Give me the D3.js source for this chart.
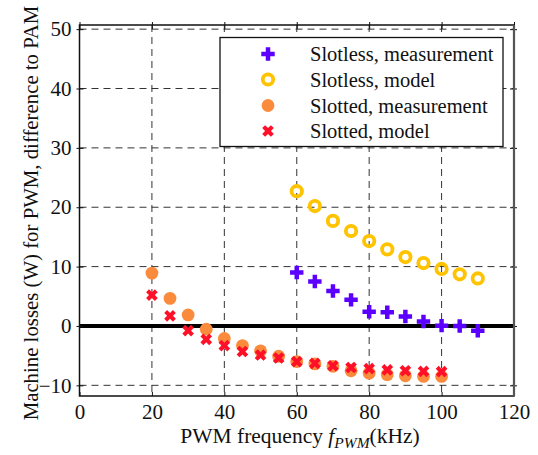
<!DOCTYPE html>
<html>
<head>
<meta charset="utf-8">
<script src="https://cdn.jsdelivr.net/npm/d3@7"></script>
<style>
html,body{margin:0;padding:0;background:#fff;}
svg text{font-family:"Liberation Serif","Times New Roman",serif;fill:#111;}
</style>
</head>
<body>
<svg id="chart" width="538" height="455" style="font-family:'Liberation Serif',serif"></svg>
<script>
const slotlessMeasX = [60,65,70,75,80,85,90,95,100,105,110];
const slotlessMeasY = [9.0,7.5,5.9,4.4,2.4,2.3,1.6,0.75,0.05,0.0,-0.8];

const slotlessModelX = [60,65,70,75,80,85,90,95,100,105,110];
const slotlessModelY = [22.7,20.2,17.7,16.0,14.3,12.9,11.6,10.6,9.6,8.7,8.0];

const slottedMeasX = [20,25,30,35,40,45,50,55,60,65,70,75,80,85,90,95,100];
const slottedMeasY = [8.9,4.65,1.85,-0.55,-2.1,-3.3,-4.2,-5.1,-6.0,-6.4,-6.8,-7.55,-7.95,-8.2,-8.4,-8.5,-8.5];

const slottedModelX = [20,25,30,35,40,45,50,55,60,65,70,75,80,85,90,95,100];
const slottedModelY = [5.2,1.7,-0.8,-2.25,-3.3,-4.3,-4.9,-5.4,-6.0,-6.3,-6.7,-7.0,-7.2,-7.4,-7.55,-7.65,-7.7];

const xTicks = [0,20,40,60,80,100,120];
const yTicks = [-10,0,10,20,30,40,50];

const legendLabels = ["Slotless, measurement","Slotless, model","Slotted, measurement","Slotted, model"];

const svg = d3.select("#chart");
const L = 79.5, R = 514, T = 25, B = 396;
const x = d3.scaleLinear().domain([0,120]).range([L,R]);
const y = d3.scaleLinear().domain([-11.8,50.7]).range([B,T]);
const FONT = "Liberation Serif";

// grid
const grid = svg.append("g").attr("stroke","#333").attr("stroke-width",1).attr("stroke-dasharray","7,5");
grid.selectAll("line.v").data(xTicks.filter(t=>t>0&&t<120)).enter().append("line")
  .attr("x1",d=>x(d)).attr("x2",d=>x(d)).attr("y1",T).attr("y2",B);
grid.selectAll("line.h").data(yTicks.filter(t=>t!==0)).enter().append("line")
  .attr("y1",d=>y(d)).attr("y2",d=>y(d)).attr("x1",L).attr("x2",R);

// zero line
svg.append("line").attr("x1",L).attr("x2",R).attr("y1",y(0)).attr("y2",y(0))
  .attr("stroke","#000").attr("stroke-width",4);

// axes via d3
const xAxis = svg.append("g").attr("transform",`translate(0,${B})`)
  .call(d3.axisBottom(x).tickValues(xTicks).tickSizeInner(-4).tickSizeOuter(0).tickPadding(8));
const yAxis = svg.append("g").attr("transform",`translate(${L},0)`)
  .call(d3.axisLeft(y).tickValues(yTicks).tickSizeInner(3).tickSizeOuter(0).tickPadding(5));
[xAxis,yAxis].forEach(a=>{
  a.attr("font-family",FONT);
  a.select(".domain").remove();
  a.selectAll("text").attr("font-family",FONT).attr("font-size",21).attr("fill","#111");
  a.selectAll("line").attr("stroke","#111");
});
yAxis.selectAll(".tick line").attr("x1",4);
// top and right ticks
const xTop = svg.append("g").attr("transform",`translate(0,${T})`)
  .call(d3.axisTop(x).tickValues(xTicks).tickSizeInner(3).tickSizeOuter(0).tickFormat(""));
xTop.select(".domain").remove();
xTop.selectAll(".tick line").attr("y1",4).attr("stroke","#111");
const yRight = svg.append("g").attr("transform",`translate(${R},0)`)
  .call(d3.axisRight(y).tickValues(yTicks).tickSizeInner(3).tickSizeOuter(0).tickFormat(""));
yRight.select(".domain").remove();
yRight.selectAll(".tick line").attr("x1",-4).attr("stroke","#111");

// markers
const plusPath = d3.symbol().type(d3.symbolCross).size(100)();
const xPath = d3.symbol().type(d3.symbolCross).size(85)();
const colPurple = "#5b00ff", colYellow = "#ffc300", colOrange = "#fb8b3c", colRed = "#ff1028";

function drawPlus(g, px, py){ g.append("path").attr("d",plusPath).attr("transform",`translate(${px},${py})`).attr("fill",colPurple); }
function drawRing(g, px, py){ g.append("circle").attr("cx",px).attr("cy",py).attr("r",5.2).attr("fill","none").attr("stroke",colYellow).attr("stroke-width",3.8); }
function drawDot(g, px, py){ g.append("circle").attr("cx",px).attr("cy",py).attr("r",6.4).attr("fill",colOrange); }
function drawX(g, px, py){ g.append("path").attr("d",xPath).attr("transform",`translate(${px},${py}) rotate(45)`).attr("fill",colRed); }

const marks = svg.append("g");
slotlessModelX.forEach((v,i)=>drawRing(marks, x(v), y(slotlessModelY[i])));
slotlessMeasX.forEach((v,i)=>drawPlus(marks, x(v), y(slotlessMeasY[i])));
slottedMeasX.forEach((v,i)=>drawDot(marks, x(v), y(slottedMeasY[i])));
slottedModelX.forEach((v,i)=>drawX(marks, x(v), y(slottedModelY[i])));

// legend
const lg = svg.append("g");
lg.append("rect").attr("x",220).attr("y",37.5).attr("width",283).attr("height",109)
  .attr("fill","#fff").attr("stroke","#111").attr("stroke-width",1.3);
const rows = [54,79.5,105.5,131];
const drawers = [drawPlus, drawRing, drawDot, drawX];
legendLabels.forEach((t,i)=>{
  drawers[i](lg, 268, rows[i]);
  lg.append("text").attr("x",310).attr("y",rows[i]).attr("dy","0.35em")
    .attr("font-family",FONT).attr("font-size",20.5).text(t);
});

// frame
svg.append("rect").attr("x",L).attr("y",T).attr("width",R-L).attr("height",B-T)
  .attr("fill","none").attr("stroke","#111").attr("stroke-width",1.5);
svg.append("line").attr("x1",R).attr("x2",R).attr("y1",T).attr("y2",B).attr("stroke","#555").attr("stroke-width",2.2);

// axis labels
const xl = svg.append("text").attr("x",300).attr("y",443).attr("text-anchor","middle")
  .attr("font-family",FONT).attr("font-size",21.5);
xl.append("tspan").text("PWM  frequency ");
xl.append("tspan").attr("font-style","italic").text("f");
xl.append("tspan").attr("font-style","italic").attr("font-size",15.5).attr("dy",5).text("PWM");
xl.append("tspan").attr("dy",-5).text("(kHz)");

svg.append("text").attr("transform","translate(38,213) rotate(-90)").attr("text-anchor","middle")
  .attr("font-family",FONT).attr("font-size",20.8).text("Machine losses (W) for PWM, difference to PAM");
</script>
</body>
</html>
